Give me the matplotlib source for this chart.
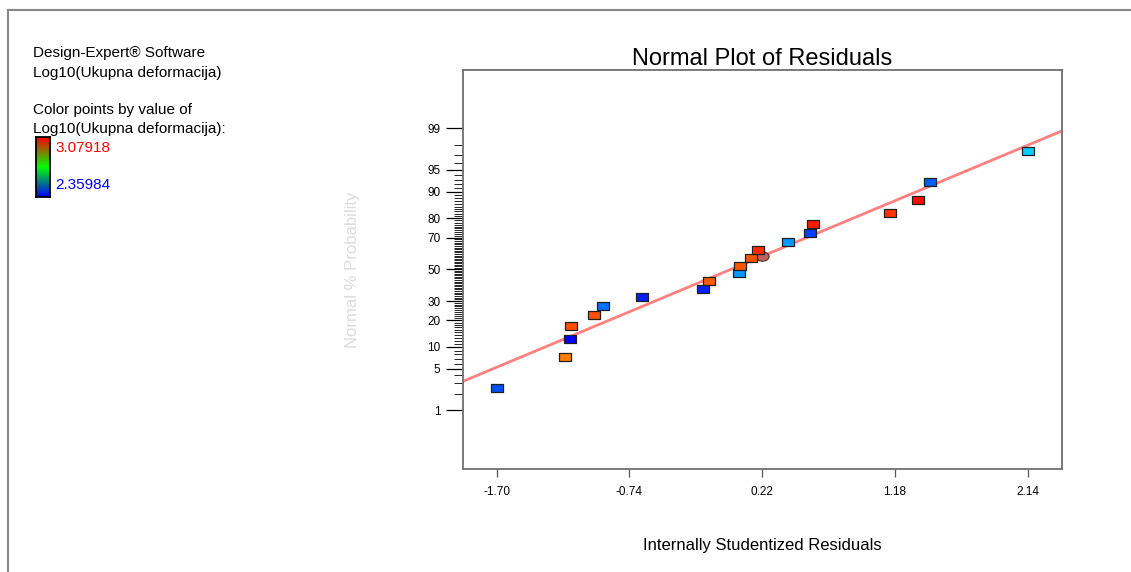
# Normal plot of residuals (Design-Expert style)

from statistics import NormalDist
import numpy as np
import matplotlib
matplotlib.use('Agg')
import matplotlib.pyplot as plt
from matplotlib.colors import LinearSegmentedColormap
from matplotlib.lines import Line2D

plt.rcParams['font.family'] = ['Liberation Sans', 'DejaVu Sans']

# residuals, sorted, and their normal % probability
residuals = [-1.700, -1.204, -1.170, -1.160, -0.994, -0.929, -0.646, -0.209, -0.162, 0.052,
             0.058, 0.140, 0.193, 0.410, 0.565, 0.591, 1.141, 1.346, 1.437, 2.140]
probability = [2.5, 7.5, 12.5, 17.5, 22.5, 27.5, 32.5, 37.5, 42.5, 47.5,
               52.5, 57.5, 62.5, 67.5, 72.5, 77.5, 82.5, 87.5, 92.5, 97.5]
point_colors = ['#0050ff', '#ff8000', '#0000ff', '#ff5000', '#ff5000', '#0070ff', '#0020ff',
                '#0020ff', '#ff5a00', '#0099ff', '#ff5500', '#ff5500', '#ff2a00', '#0099ff',
                '#0040ff', '#ff1a00', '#ff3300', '#ff0a00', '#0060ff', '#00ccff']

# highlighted point (ellipse)
highlight_x = 0.218
highlight_pct = 58.5

# fitted line in z units: z = slope * x + intercept
line_slope = 0.954
line_intercept = 0.006

xticks = [-1.70, -0.74, 0.22, 1.18, 2.14]
major_pct = [1, 5, 10, 20, 30, 50, 70, 80, 90, 95, 99]
minor_pct = [p for p in range(2, 99) if p not in major_pct]

cb_high = '3.07918'
cb_low = '2.35984'

nd = NormalDist()
z = lambda p: nd.inv_cdf(p / 100.0)

W, H = 1131, 572
fig = plt.figure(figsize=(W / 100, H / 100), dpi=100)
ax = fig.add_axes([462.7 / W, 1 - 469 / H, 599 / W, 399 / H])

# fitted line
ax.axline((0, line_intercept), slope=line_slope, color='#ff8080', lw=2, zorder=2)

# highlight ellipse behind squares
t = np.linspace(0, 2 * np.pi, 40)
ellipse = list(zip(1.4 * np.cos(t), np.sin(t)))
ax.plot([highlight_x], [z(highlight_pct)], linestyle='none', marker=ellipse, markersize=9.5,
        markerfacecolor='#c06060', markeredgecolor='#503030', markeredgewidth=0.8, zorder=3)

rect = [(-1.5, -1), (1.5, -1), (1.5, 1), (-1.5, 1), (-1.5, -1)]
for xv, pv, c in zip(residuals, probability, point_colors):
    ax.plot([xv], [z(pv)], linestyle='none', marker=rect, markersize=8.8,
            markerfacecolor=c, markeredgecolor='#202020', markeredgewidth=0.9, zorder=4)

ax.set_xlim(-1.946, 2.386)
ax.set_ylim(-3.295, 3.289)

ax.set_xticks(xticks)
ax.set_xticklabels(['%.2f' % v for v in xticks], fontsize=8.5)
ax.set_yticks([z(p) for p in major_pct])
ax.set_yticklabels([str(p) for p in major_pct], fontsize=8.5)
ax.set_yticks([z(p) for p in minor_pct], minor=True)

ax.tick_params(axis='x', direction='out', length=6, width=0.9, color='#555555', pad=6)
ax.tick_params(axis='y', which='major', direction='out', length=12, width=0.9, color='black', pad=4)
ax.tick_params(axis='y', which='minor', direction='out', length=6.3, width=0.6, color='black')

for s in ax.spines.values():
    s.set_color('#707070')
    s.set_linewidth(1.3)

ax.set_title('Normal Plot of Residuals', fontsize=17, pad=3)
ax.set_xlabel('Internally Studentized Residuals', fontsize=12, labelpad=29)

# broken vertical axis label, drawn faint
fig.text(352 / W, 1 - 270 / H, 'Normal % Probability', rotation=90, color='#dcdcdc',
         fontsize=12, ha='center', va='center')

# side notes
fig.text(33 / W, 1 - 57.3 / H, 'Design-Expert® Software', fontsize=11, va='baseline')
fig.text(33 / W, 1 - 76.7 / H, 'Log10(Ukupna deformacija)', fontsize=11, va='baseline')
fig.text(33 / W, 1 - 114 / H, 'Color points by value of', fontsize=11, va='baseline')
fig.text(33 / W, 1 - 133.3 / H, 'Log10(Ukupna deformacija):', fontsize=11, va='baseline')
fig.text(55 / W, 1 - 152 / H, cb_high, fontsize=11, va='baseline', color='#ff0000')
fig.text(55 / W, 1 - 189 / H, cb_low, fontsize=11, va='baseline', color='#0000ff')

# colour bar
cax = fig.add_axes([36 / W, 1 - 197 / H, 14 / W, 60 / H])
cmap = LinearSegmentedColormap.from_list('bgr', ['#0000ff', '#00ff00', '#ff0000'])
cax.imshow(np.linspace(0, 1, 100).reshape(-1, 1), cmap=cmap, aspect='auto', origin='lower')
cax.set_xticks([])
cax.set_yticks([])
for s in cax.spines.values():
    s.set_color('black')
    s.set_linewidth(1.3)

# outer frame
fig.add_artist(Line2D([8 / W, 1], [1 - 10 / H, 1 - 10 / H], transform=fig.transFigure,
                      color='#888888', lw=1.5))
fig.add_artist(Line2D([8 / W, 8 / W], [0, 1 - 10 / H], transform=fig.transFigure,
                      color='#888888', lw=1.5))

fig.savefig('out.png', dpi=100)
